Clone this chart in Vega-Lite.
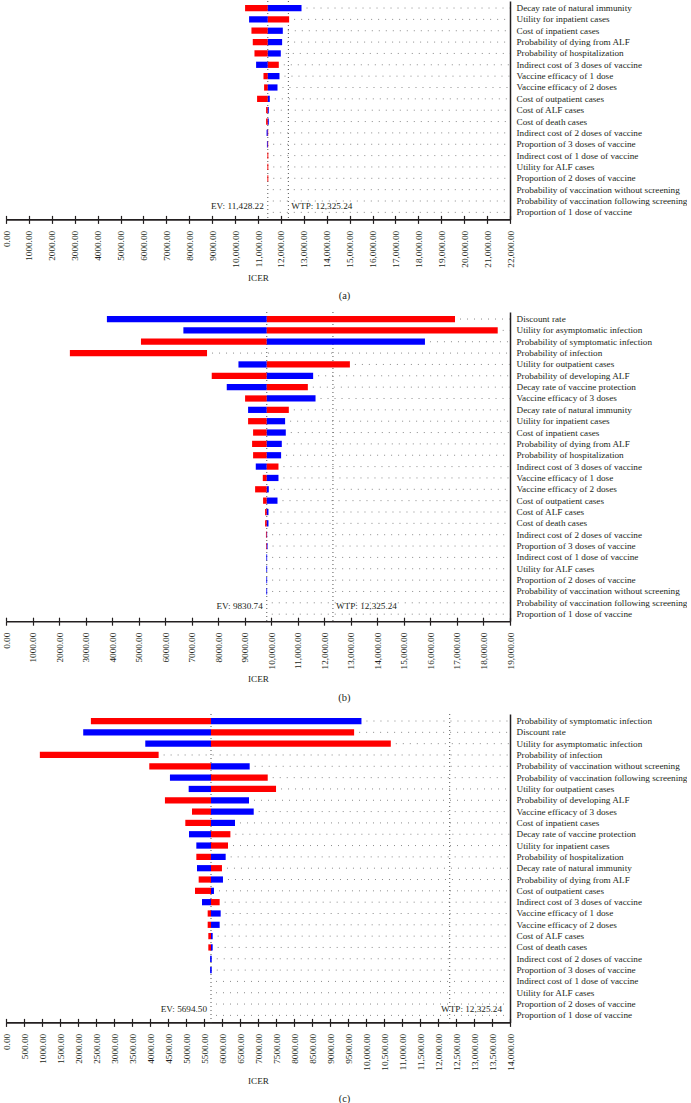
{
  "$schema": "https://vega.github.io/schema/vega-lite/v6.json",
  "padding": {"left": 2, "top": 0, "right": 0, "bottom": 0},
  "background": "white",
  "spacing": 9,
  "config": {
    "view": {"stroke": null},
    "font": "Liberation Serif",
    "title": {"font": "Liberation Serif", "fontSize": 10.5, "fontWeight": "normal", "color": "#231f20"},
    "axis": {"labelFont": "Liberation Serif", "titleFont": "Liberation Serif", "labelFontSize": 9.2, "titleFontSize": 9.2, "titleFontWeight": "normal", "labelColor": "#231f20", "titleColor": "#231f20", "domainColor": "#231f20", "tickColor": "#231f20", "grid": false},
    "axisY": {"orient": "right", "title": null, "ticks": false, "domainWidth": 1.5, "labelPadding": 6, "labelLimit": 0},
    "text": {"font": "Liberation Serif", "fontSize": 9.2, "color": "#231f20"}
  },
  "datasets": {
    "tornadoA": [
      {"param": "Decay rate of natural immunity", "lo": 10436, "hi": 11428.22, "side": "low"},
      {"param": "Decay rate of natural immunity", "lo": 11428.22, "hi": 12900, "side": "high"},
      {"param": "Utility for inpatient cases", "lo": 10611, "hi": 11428.22, "side": "high"},
      {"param": "Utility for inpatient cases", "lo": 11428.22, "hi": 12359, "side": "low"},
      {"param": "Cost of inpatient cases", "lo": 10714, "hi": 11428.22, "side": "low"},
      {"param": "Cost of inpatient cases", "lo": 11428.22, "hi": 12083, "side": "high"},
      {"param": "Probability of dying from ALF", "lo": 10772, "hi": 11428.22, "side": "low"},
      {"param": "Probability of dying from ALF", "lo": 11428.22, "hi": 12053, "side": "high"},
      {"param": "Probability of hospitalization", "lo": 10846, "hi": 11428.22, "side": "low"},
      {"param": "Probability of hospitalization", "lo": 11428.22, "hi": 11995, "side": "high"},
      {"param": "Indirect cost of 3 doses of vaccine", "lo": 10917, "hi": 11428.22, "side": "high"},
      {"param": "Indirect cost of 3 doses of vaccine", "lo": 11428.22, "hi": 11908, "side": "low"},
      {"param": "Vaccine efficacy of 1 dose", "lo": 11239, "hi": 11428.22, "side": "low"},
      {"param": "Vaccine efficacy of 1 dose", "lo": 11428.22, "hi": 11938, "side": "high"},
      {"param": "Vaccine efficacy of 2 doses", "lo": 11266, "hi": 11428.22, "side": "low"},
      {"param": "Vaccine efficacy of 2 doses", "lo": 11428.22, "hi": 11851, "side": "high"},
      {"param": "Cost of outpatient cases", "lo": 10960, "hi": 11428.22, "side": "low"},
      {"param": "Cost of outpatient cases", "lo": 11428.22, "hi": 11515, "side": "high"},
      {"param": "Cost of ALF cases", "lo": 11354, "hi": 11428.22, "side": "low"},
      {"param": "Cost of ALF cases", "lo": 11428.22, "hi": 11471, "side": "high"},
      {"param": "Cost of death cases", "lo": 11354, "hi": 11428.22, "side": "low"},
      {"param": "Cost of death cases", "lo": 11428.22, "hi": 11471, "side": "high"},
      {"param": "Indirect cost of 2 doses of vaccine", "lo": 11375, "hi": 11428.22, "side": "high"},
      {"param": "Indirect cost of 2 doses of vaccine", "lo": 11428.22, "hi": 11445, "side": "low"},
      {"param": "Proportion of 3 doses of vaccine", "lo": 11390, "hi": 11428.22, "side": "high"},
      {"param": "Proportion of 3 doses of vaccine", "lo": 11428.22, "hi": 11445, "side": "low"},
      {"param": "Indirect cost of 1 dose of vaccine", "lo": 11410, "hi": 11450, "side": "low"},
      {"param": "Utility for ALF cases", "lo": 11410, "hi": 11450, "side": "low"},
      {"param": "Proportion of 2 doses of vaccine", "lo": 11410, "hi": 11450, "side": "low"},
      {"param": "Probability of vaccination without screening", "lo": 11428.22, "hi": 11428.22, "side": "high"},
      {"param": "Probability of vaccination following screening", "lo": 11428.22, "hi": 11428.22, "side": "high"},
      {"param": "Proportion of 1 dose of vaccine", "lo": 11428.22, "hi": 11428.22, "side": "high"}
    ],
    "tornadoB": [
      {"param": "Discount rate", "lo": 3804, "hi": 9830.74, "side": "high"},
      {"param": "Discount rate", "lo": 9830.74, "hi": 16927, "side": "low"},
      {"param": "Utility for asymptomatic infection", "lo": 6687, "hi": 9830.74, "side": "high"},
      {"param": "Utility for asymptomatic infection", "lo": 9830.74, "hi": 18537, "side": "low"},
      {"param": "Probability of symptomatic infection", "lo": 5088, "hi": 9830.74, "side": "low"},
      {"param": "Probability of symptomatic infection", "lo": 9830.74, "hi": 15794, "side": "high"},
      {"param": "Probability of infection", "lo": 2408, "hi": 7579, "side": "low"},
      {"param": "Utility for outpatient cases", "lo": 8763, "hi": 9830.74, "side": "high"},
      {"param": "Utility for outpatient cases", "lo": 9830.74, "hi": 12964, "side": "low"},
      {"param": "Probability of developing ALF", "lo": 7756, "hi": 9830.74, "side": "low"},
      {"param": "Probability of developing ALF", "lo": 9830.74, "hi": 11579, "side": "high"},
      {"param": "Decay rate of vaccine protection", "lo": 8322, "hi": 9830.74, "side": "high"},
      {"param": "Decay rate of vaccine protection", "lo": 9830.74, "hi": 11379, "side": "low"},
      {"param": "Vaccine efficacy of 3 doses", "lo": 9013, "hi": 9830.74, "side": "low"},
      {"param": "Vaccine efficacy of 3 doses", "lo": 9830.74, "hi": 11669, "side": "high"},
      {"param": "Decay rate of natural immunity", "lo": 9126, "hi": 9830.74, "side": "high"},
      {"param": "Decay rate of natural immunity", "lo": 9830.74, "hi": 10662, "side": "low"},
      {"param": "Utility for inpatient cases", "lo": 9126, "hi": 9830.74, "side": "low"},
      {"param": "Utility for inpatient cases", "lo": 9830.74, "hi": 10522, "side": "high"},
      {"param": "Cost of inpatient cases", "lo": 9315, "hi": 9830.74, "side": "low"},
      {"param": "Cost of inpatient cases", "lo": 9830.74, "hi": 10548, "side": "high"},
      {"param": "Probability of dying from ALF", "lo": 9277, "hi": 9830.74, "side": "low"},
      {"param": "Probability of dying from ALF", "lo": 9830.74, "hi": 10397, "side": "high"},
      {"param": "Probability of hospitalization", "lo": 9315, "hi": 9830.74, "side": "low"},
      {"param": "Probability of hospitalization", "lo": 9830.74, "hi": 10371, "side": "high"},
      {"param": "Indirect cost of 3 doses of vaccine", "lo": 9416, "hi": 9830.74, "side": "high"},
      {"param": "Indirect cost of 3 doses of vaccine", "lo": 9830.74, "hi": 10272, "side": "low"},
      {"param": "Vaccine efficacy of 1 dose", "lo": 9680, "hi": 9830.74, "side": "low"},
      {"param": "Vaccine efficacy of 1 dose", "lo": 9830.74, "hi": 10272, "side": "high"},
      {"param": "Vaccine efficacy of 2 doses", "lo": 9391, "hi": 9830.74, "side": "low"},
      {"param": "Vaccine efficacy of 2 doses", "lo": 9830.74, "hi": 9907, "side": "high"},
      {"param": "Cost of outpatient cases", "lo": 9692, "hi": 9830.74, "side": "low"},
      {"param": "Cost of outpatient cases", "lo": 9830.74, "hi": 10235, "side": "high"},
      {"param": "Cost of ALF cases", "lo": 9768, "hi": 9830.74, "side": "low"},
      {"param": "Cost of ALF cases", "lo": 9830.74, "hi": 9895, "side": "high"},
      {"param": "Cost of death cases", "lo": 9768, "hi": 9830.74, "side": "low"},
      {"param": "Cost of death cases", "lo": 9830.74, "hi": 9895, "side": "high"},
      {"param": "Indirect cost of 2 doses of vaccine", "lo": 9800, "hi": 9830.74, "side": "low"},
      {"param": "Indirect cost of 2 doses of vaccine", "lo": 9830.74, "hi": 9845, "side": "high"},
      {"param": "Proportion of 3 doses of vaccine", "lo": 9805, "hi": 9830.74, "side": "low"},
      {"param": "Proportion of 3 doses of vaccine", "lo": 9830.74, "hi": 9860, "side": "high"},
      {"param": "Indirect cost of 1 dose of vaccine", "lo": 9815, "hi": 9845, "side": "high"},
      {"param": "Utility for ALF cases", "lo": 9815, "hi": 9845, "side": "high"},
      {"param": "Proportion of 2 doses of vaccine", "lo": 9815, "hi": 9845, "side": "high"},
      {"param": "Probability of vaccination without screening", "lo": 9815, "hi": 9845, "side": "high"},
      {"param": "Probability of vaccination following screening", "lo": 9830.74, "hi": 9830.74, "side": "high"},
      {"param": "Proportion of 1 dose of vaccine", "lo": 9830.74, "hi": 9830.74, "side": "high"}
    ],
    "tornadoC": [
      {"param": "Probability of symptomatic infection", "lo": 2358, "hi": 5694.5, "side": "low"},
      {"param": "Probability of symptomatic infection", "lo": 5694.5, "hi": 9874, "side": "high"},
      {"param": "Discount rate", "lo": 2145, "hi": 5694.5, "side": "high"},
      {"param": "Discount rate", "lo": 5694.5, "hi": 9670, "side": "low"},
      {"param": "Utility for asymptomatic infection", "lo": 3869, "hi": 5694.5, "side": "high"},
      {"param": "Utility for asymptomatic infection", "lo": 5694.5, "hi": 10689, "side": "low"},
      {"param": "Probability of infection", "lo": 940, "hi": 4240, "side": "low"},
      {"param": "Probability of vaccination without screening", "lo": 3980, "hi": 5694.5, "side": "low"},
      {"param": "Probability of vaccination without screening", "lo": 5694.5, "hi": 6769, "side": "high"},
      {"param": "Probability of vaccination following screening", "lo": 4554, "hi": 5694.5, "side": "high"},
      {"param": "Probability of vaccination following screening", "lo": 5694.5, "hi": 7270, "side": "low"},
      {"param": "Utility for outpatient cases", "lo": 5074, "hi": 5694.5, "side": "high"},
      {"param": "Utility for outpatient cases", "lo": 5694.5, "hi": 7501, "side": "low"},
      {"param": "Probability of developing ALF", "lo": 4415, "hi": 5694.5, "side": "low"},
      {"param": "Probability of developing ALF", "lo": 5694.5, "hi": 6750, "side": "high"},
      {"param": "Vaccine efficacy of 3 doses", "lo": 5166, "hi": 5694.5, "side": "low"},
      {"param": "Vaccine efficacy of 3 doses", "lo": 5694.5, "hi": 6881, "side": "high"},
      {"param": "Cost of inpatient cases", "lo": 4981, "hi": 5694.5, "side": "low"},
      {"param": "Cost of inpatient cases", "lo": 5694.5, "hi": 6361, "side": "high"},
      {"param": "Decay rate of vaccine protection", "lo": 5083, "hi": 5694.5, "side": "high"},
      {"param": "Decay rate of vaccine protection", "lo": 5694.5, "hi": 6233, "side": "low"},
      {"param": "Utility for inpatient cases", "lo": 5287, "hi": 5694.5, "side": "high"},
      {"param": "Utility for inpatient cases", "lo": 5694.5, "hi": 6167, "side": "low"},
      {"param": "Probability of hospitalization", "lo": 5287, "hi": 5694.5, "side": "low"},
      {"param": "Probability of hospitalization", "lo": 5694.5, "hi": 6102, "side": "high"},
      {"param": "Decay rate of natural immunity", "lo": 5305, "hi": 5694.5, "side": "high"},
      {"param": "Decay rate of natural immunity", "lo": 5694.5, "hi": 5999, "side": "low"},
      {"param": "Probability of dying from ALF", "lo": 5352, "hi": 5694.5, "side": "low"},
      {"param": "Probability of dying from ALF", "lo": 5694.5, "hi": 6027, "side": "high"},
      {"param": "Cost of outpatient cases", "lo": 5250, "hi": 5694.5, "side": "low"},
      {"param": "Cost of outpatient cases", "lo": 5694.5, "hi": 5777, "side": "high"},
      {"param": "Indirect cost of 3 doses of vaccine", "lo": 5444, "hi": 5694.5, "side": "high"},
      {"param": "Indirect cost of 3 doses of vaccine", "lo": 5694.5, "hi": 5935, "side": "low"},
      {"param": "Vaccine efficacy of 1 dose", "lo": 5602, "hi": 5694.5, "side": "low"},
      {"param": "Vaccine efficacy of 1 dose", "lo": 5694.5, "hi": 5963, "side": "high"},
      {"param": "Vaccine efficacy of 2 doses", "lo": 5602, "hi": 5694.5, "side": "low"},
      {"param": "Vaccine efficacy of 2 doses", "lo": 5694.5, "hi": 5935, "side": "high"},
      {"param": "Cost of ALF cases", "lo": 5620, "hi": 5694.5, "side": "low"},
      {"param": "Cost of ALF cases", "lo": 5694.5, "hi": 5741, "side": "high"},
      {"param": "Cost of death cases", "lo": 5620, "hi": 5694.5, "side": "low"},
      {"param": "Cost of death cases", "lo": 5694.5, "hi": 5741, "side": "high"},
      {"param": "Indirect cost of 2 doses of vaccine", "lo": 5670, "hi": 5715, "side": "high"},
      {"param": "Proportion of 3 doses of vaccine", "lo": 5670, "hi": 5715, "side": "high"},
      {"param": "Indirect cost of 1 dose of vaccine", "lo": 5694.5, "hi": 5694.5, "side": "high"},
      {"param": "Utility for ALF cases", "lo": 5694.5, "hi": 5694.5, "side": "high"},
      {"param": "Proportion of 2 doses of vaccine", "lo": 5694.5, "hi": 5694.5, "side": "high"},
      {"param": "Proportion of 1 dose of vaccine", "lo": 5694.5, "hi": 5694.5, "side": "high"}
    ],
    "refA": [{"kind": "EV", "v": 11428.22, "t": "EV: 11,428.22"}, {"kind": "WTP", "v": 12325.24, "t": "WTP: 12,325.24"}],
    "refB": [{"kind": "EV", "v": 9830.74, "t": "EV: 9830.74"}, {"kind": "WTP", "v": 12325.24, "t": "WTP: 12,325.24"}],
    "refC": [{"kind": "EV", "v": 5694.5, "t": "EV: 5694.50"}, {"kind": "WTP", "v": 12325.24, "t": "WTP: 12,325.24"}]
  },
  "vconcat": [
    {
      "width": 504,
      "height": 218.4,
      "title": {"text": "(a)", "orient": "bottom", "anchor": "middle", "frame": "bounds", "offset": 9},
      "resolve": {"axis": {"x": "independent"}},
      "layer": [
        {
          "data": {"name": "tornadoA"},
          "transform": [{"aggregate": [{"op": "max", "field": "hi", "as": "end"}], "groupby": ["param"]}],
          "mark": {"type": "rule", "color": "#8a8a8a", "strokeDash": [1, 6], "strokeWidth": 1, "xOffset": 5},
          "encoding": {
            "y": {"field": "param", "type": "nominal",
              "scale": {"domain": ["Decay rate of natural immunity", "Utility for inpatient cases", "Cost of inpatient cases", "Probability of dying from ALF", "Probability of hospitalization", "Indirect cost of 3 doses of vaccine", "Vaccine efficacy of 1 dose", "Vaccine efficacy of 2 doses", "Cost of outpatient cases", "Cost of ALF cases", "Cost of death cases", "Indirect cost of 2 doses of vaccine", "Proportion of 3 doses of vaccine", "Indirect cost of 1 dose of vaccine", "Utility for ALF cases", "Proportion of 2 doses of vaccine", "Probability of vaccination without screening", "Probability of vaccination following screening", "Proportion of 1 dose of vaccine"], "paddingInner": 0, "paddingOuter": 0.12}},
            "x": {"field": "end", "type": "quantitative", "scale": {"domain": [0, 22000], "nice": false, "zero": true},
              "axis": {"orient": "bottom", "values": [0, 1000, 2000, 3000, 4000, 5000, 6000, 7000, 8000, 9000, 10000, 11000, 12000, 13000, 14000, 15000, 16000, 17000, 18000, 19000, 20000, 21000, 22000],
                "labelExpr": "datum.value < 10000 ? format(datum.value, '.2f') : format(datum.value, ',.2f')",
                "labelAngle": 270, "labelPadding": 7, "labelFlush": false, "labelOverlap": false, "labelBound": false,
                "tickSize": 4, "tickWidth": 1.2, "domainWidth": 1.6, "title": "ICER", "titlePadding": 6}},
            "x2": {"datum": 22000}
          }
        },
        {
          "data": {"name": "refA"},
          "mark": {"type": "rule", "color": "#555555", "strokeDash": [1, 3], "strokeWidth": 1},
          "encoding": {
            "x": {"field": "v", "type": "quantitative", "scale": {"domain": [0, 22000], "nice": false, "zero": true},
              "axis": {"orient": "bottom", "values": [0, 1000, 2000, 3000, 4000, 5000, 6000, 7000, 8000, 9000, 10000, 11000, 12000, 13000, 14000, 15000, 16000, 17000, 18000, 19000, 20000, 21000, 22000],
                "offset": -4, "domain": false, "labels": false, "tickSize": 4, "tickWidth": 1.2, "title": null}}
          }
        },
        {
          "data": {"name": "tornadoA"},
          "mark": {"type": "bar", "height": {"band": 0.55}},
          "encoding": {
            "y": {"field": "param", "type": "nominal"},
            "x": {"field": "lo", "type": "quantitative", "scale": {"domain": [0, 22000], "nice": false, "zero": true}, "axis": null},
            "x2": {"field": "hi"},
            "color": {"field": "side", "type": "nominal", "scale": {"domain": ["low", "high"], "range": ["#ff0000", "#0000ff"]}, "legend": null}
          }
        },
        {
          "data": {"name": "refA"},
          "transform": [{"filter": "datum.kind === 'EV'"}],
          "mark": {"type": "text", "align": "right", "baseline": "middle", "dx": -4, "dy": 4.5},
          "encoding": {
            "x": {"field": "v", "type": "quantitative", "scale": {"domain": [0, 22000], "nice": false, "zero": true}, "axis": null},
            "y": {"datum": "Probability of vaccination following screening", "type": "nominal"},
            "text": {"field": "t"}
          }
        },
        {
          "data": {"name": "refA"},
          "transform": [{"filter": "datum.kind === 'WTP'"}],
          "mark": {"type": "text", "align": "left", "baseline": "middle", "dx": 3, "dy": 4.5},
          "encoding": {
            "x": {"field": "v", "type": "quantitative", "scale": {"domain": [0, 22000], "nice": false, "zero": true}, "axis": null},
            "y": {"datum": "Probability of vaccination following screening", "type": "nominal"},
            "text": {"field": "t"}
          }
        }
      ]
    },
    {
      "width": 504,
      "height": 309.2,
      "title": {"text": "(b)", "orient": "bottom", "anchor": "middle", "frame": "bounds", "offset": 9},
      "resolve": {"axis": {"x": "independent"}},
      "layer": [
        {
          "data": {"name": "tornadoB"},
          "transform": [{"aggregate": [{"op": "max", "field": "hi", "as": "end"}], "groupby": ["param"]}],
          "mark": {"type": "rule", "color": "#8a8a8a", "strokeDash": [1, 6], "strokeWidth": 1, "xOffset": 5},
          "encoding": {
            "y": {"field": "param", "type": "nominal",
              "scale": {"domain": ["Discount rate", "Utility for asymptomatic infection", "Probability of symptomatic infection", "Probability of infection", "Utility for outpatient cases", "Probability of developing ALF", "Decay rate of vaccine protection", "Vaccine efficacy of 3 doses", "Decay rate of natural immunity", "Utility for inpatient cases", "Cost of inpatient cases", "Probability of dying from ALF", "Probability of hospitalization", "Indirect cost of 3 doses of vaccine", "Vaccine efficacy of 1 dose", "Vaccine efficacy of 2 doses", "Cost of outpatient cases", "Cost of ALF cases", "Cost of death cases", "Indirect cost of 2 doses of vaccine", "Proportion of 3 doses of vaccine", "Indirect cost of 1 dose of vaccine", "Utility for ALF cases", "Proportion of 2 doses of vaccine", "Probability of vaccination without screening", "Probability of vaccination following screening", "Proportion of 1 dose of vaccine"], "paddingInner": 0, "paddingOuter": 0.12}},
            "x": {"field": "end", "type": "quantitative", "scale": {"domain": [0, 19000], "nice": false, "zero": true},
              "axis": {"orient": "bottom", "values": [0, 1000, 2000, 3000, 4000, 5000, 6000, 7000, 8000, 9000, 10000, 11000, 12000, 13000, 14000, 15000, 16000, 17000, 18000, 19000],
                "labelExpr": "datum.value < 10000 ? format(datum.value, '.2f') : format(datum.value, ',.2f')",
                "labelAngle": 270, "labelPadding": 7, "labelFlush": false, "labelOverlap": false, "labelBound": false,
                "tickSize": 4, "tickWidth": 1.2, "domainWidth": 1.6, "title": "ICER", "titlePadding": 6}},
            "x2": {"datum": 19000}
          }
        },
        {
          "data": {"name": "refB"},
          "mark": {"type": "rule", "color": "#555555", "strokeDash": [1, 3], "strokeWidth": 1},
          "encoding": {
            "x": {"field": "v", "type": "quantitative", "scale": {"domain": [0, 19000], "nice": false, "zero": true},
              "axis": {"orient": "bottom", "values": [0, 1000, 2000, 3000, 4000, 5000, 6000, 7000, 8000, 9000, 10000, 11000, 12000, 13000, 14000, 15000, 16000, 17000, 18000, 19000],
                "offset": -4, "domain": false, "labels": false, "tickSize": 4, "tickWidth": 1.2, "title": null}}
          }
        },
        {
          "data": {"name": "tornadoB"},
          "mark": {"type": "bar", "height": {"band": 0.55}},
          "encoding": {
            "y": {"field": "param", "type": "nominal"},
            "x": {"field": "lo", "type": "quantitative", "scale": {"domain": [0, 19000], "nice": false, "zero": true}, "axis": null},
            "x2": {"field": "hi"},
            "color": {"field": "side", "type": "nominal", "scale": {"domain": ["low", "high"], "range": ["#ff0000", "#0000ff"]}, "legend": null}
          }
        },
        {
          "data": {"name": "refB"},
          "transform": [{"filter": "datum.kind === 'EV'"}],
          "mark": {"type": "text", "align": "right", "baseline": "middle", "dx": -4, "dy": 3.5},
          "encoding": {
            "x": {"field": "v", "type": "quantitative", "scale": {"domain": [0, 19000], "nice": false, "zero": true}, "axis": null},
            "y": {"datum": "Probability of vaccination following screening", "type": "nominal"},
            "text": {"field": "t"}
          }
        },
        {
          "data": {"name": "refB"},
          "transform": [{"filter": "datum.kind === 'WTP'"}],
          "mark": {"type": "text", "align": "left", "baseline": "middle", "dx": 3, "dy": 3.5},
          "encoding": {
            "x": {"field": "v", "type": "quantitative", "scale": {"domain": [0, 19000], "nice": false, "zero": true}, "axis": null},
            "y": {"datum": "Probability of vaccination following screening", "type": "nominal"},
            "text": {"field": "t"}
          }
        }
      ]
    },
    {
      "width": 504,
      "height": 308.4,
      "title": {"text": "(c)", "orient": "bottom", "anchor": "middle", "frame": "bounds", "offset": 9},
      "resolve": {"axis": {"x": "independent"}},
      "layer": [
        {
          "data": {"name": "tornadoC"},
          "transform": [{"aggregate": [{"op": "max", "field": "hi", "as": "end"}], "groupby": ["param"]}],
          "mark": {"type": "rule", "color": "#8a8a8a", "strokeDash": [1, 6], "strokeWidth": 1, "xOffset": 5},
          "encoding": {
            "y": {"field": "param", "type": "nominal",
              "scale": {"domain": ["Probability of symptomatic infection", "Discount rate", "Utility for asymptomatic infection", "Probability of infection", "Probability of vaccination without screening", "Probability of vaccination following screening", "Utility for outpatient cases", "Probability of developing ALF", "Vaccine efficacy of 3 doses", "Cost of inpatient cases", "Decay rate of vaccine protection", "Utility for inpatient cases", "Probability of hospitalization", "Decay rate of natural immunity", "Probability of dying from ALF", "Cost of outpatient cases", "Indirect cost of 3 doses of vaccine", "Vaccine efficacy of 1 dose", "Vaccine efficacy of 2 doses", "Cost of ALF cases", "Cost of death cases", "Indirect cost of 2 doses of vaccine", "Proportion of 3 doses of vaccine", "Indirect cost of 1 dose of vaccine", "Utility for ALF cases", "Proportion of 2 doses of vaccine", "Proportion of 1 dose of vaccine"], "paddingInner": 0, "paddingOuter": 0.12}},
            "x": {"field": "end", "type": "quantitative", "scale": {"domain": [0, 14000], "nice": false, "zero": true},
              "axis": {"orient": "bottom", "values": [0, 500, 1000, 1500, 2000, 2500, 3000, 3500, 4000, 4500, 5000, 5500, 6000, 6500, 7000, 7500, 8000, 8500, 9000, 9500, 10000, 10500, 11000, 11500, 12000, 12500, 13000, 13500, 14000],
                "labelExpr": "datum.value < 10000 ? format(datum.value, '.2f') : format(datum.value, ',.2f')",
                "labelAngle": 270, "labelPadding": 7, "labelFlush": false, "labelOverlap": false, "labelBound": false,
                "tickSize": 4, "tickWidth": 1.2, "domainWidth": 1.6, "title": "ICER", "titlePadding": 6}},
            "x2": {"datum": 14000}
          }
        },
        {
          "data": {"name": "refC"},
          "mark": {"type": "rule", "color": "#555555", "strokeDash": [1, 3], "strokeWidth": 1},
          "encoding": {
            "x": {"field": "v", "type": "quantitative", "scale": {"domain": [0, 14000], "nice": false, "zero": true},
              "axis": {"orient": "bottom", "values": [0, 500, 1000, 1500, 2000, 2500, 3000, 3500, 4000, 4500, 5000, 5500, 6000, 6500, 7000, 7500, 8000, 8500, 9000, 9500, 10000, 10500, 11000, 11500, 12000, 12500, 13000, 13500, 14000],
                "offset": -4, "domain": false, "labels": false, "tickSize": 4, "tickWidth": 1.2, "title": null}}
          }
        },
        {
          "data": {"name": "tornadoC"},
          "mark": {"type": "bar", "height": {"band": 0.55}},
          "encoding": {
            "y": {"field": "param", "type": "nominal"},
            "x": {"field": "lo", "type": "quantitative", "scale": {"domain": [0, 14000], "nice": false, "zero": true}, "axis": null},
            "x2": {"field": "hi"},
            "color": {"field": "side", "type": "nominal", "scale": {"domain": ["low", "high"], "range": ["#ff0000", "#0000ff"]}, "legend": null}
          }
        },
        {
          "data": {"name": "refC"},
          "transform": [{"filter": "datum.kind === 'EV'"}],
          "mark": {"type": "text", "align": "right", "baseline": "middle", "dx": -4, "dy": 5},
          "encoding": {
            "x": {"field": "v", "type": "quantitative", "scale": {"domain": [0, 14000], "nice": false, "zero": true}, "axis": null},
            "y": {"datum": "Proportion of 2 doses of vaccine", "type": "nominal"},
            "text": {"field": "t"}
          }
        },
        {
          "data": {"name": "refC"},
          "transform": [{"filter": "datum.kind === 'WTP'"}],
          "mark": {"type": "text", "align": "right", "baseline": "middle", "dx": -8, "dy": 5},
          "encoding": {
            "x": {"datum": 14000, "type": "quantitative", "scale": {"domain": [0, 14000], "nice": false, "zero": true}, "axis": null},
            "y": {"datum": "Proportion of 2 doses of vaccine", "type": "nominal"},
            "text": {"field": "t"}
          }
        }
      ]
    }
  ]
}
